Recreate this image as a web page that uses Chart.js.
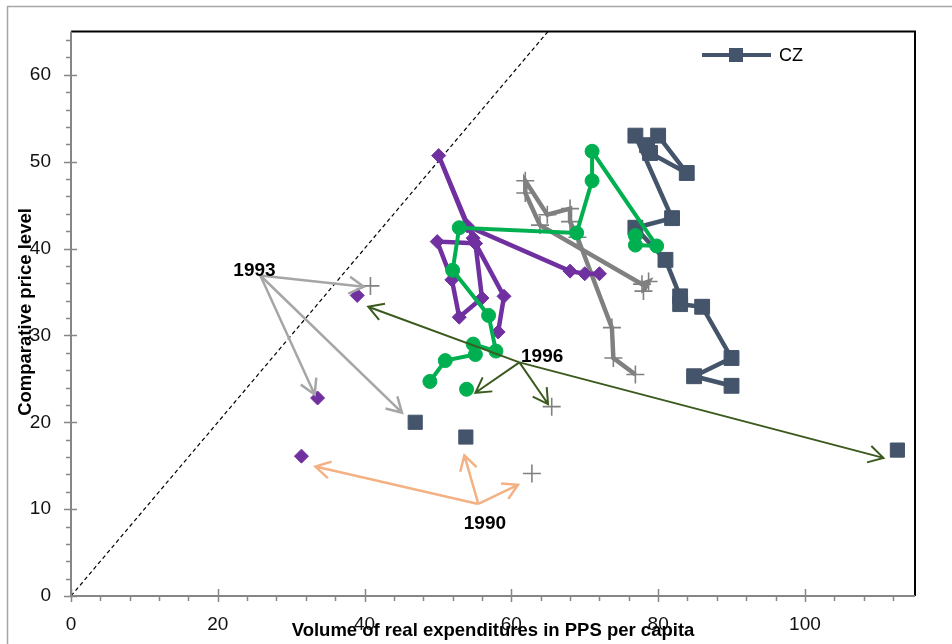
<!DOCTYPE html>
<html>
<head>
<meta charset="utf-8">
<script src="https://cdn.jsdelivr.net/npm/chart.js@4.4.1/dist/chart.umd.min.js"></script>
<style>body { margin: 0; background: #fff; }</style>
</head>
<body>
<canvas id="chart" width="952" height="644"></canvas>
<script>
// axes
const xTicks = [0, 20, 40, 60, 80, 100]
const yTicks = [0, 10, 20, 30, 40, 50, 60]
const xMinorStep = 4
const yMinorStep = 2
const xMax = 115
const yMax = 65

// CZ (squares)
const czX = [90.0, 84.9, 90.0, 86.0, 83.0, 83.0, 81.0, 76.9, 81.9, 76.9, 78.5, 78.9, 83.9, 80.0]
const czY = [24.2, 25.3, 27.4, 33.3, 33.6, 34.5, 38.7, 42.4, 43.5, 53.0, 51.9, 51.0, 48.7, 53.0]
const czDotX = [46.9, 53.8, 112.6]
const czDotY = [20.0, 18.3, 16.8]

// grey crosses
const greyX = [76.9, 73.9, 73.7, 69.0, 68.0, 68.0, 64.9, 61.9, 61.9, 63.9, 77.8, 78.7, 78.0]
const greyY = [25.5, 27.4, 30.9, 41.3, 43.1, 44.6, 43.9, 47.8, 46.4, 42.7, 35.9, 36.2, 35.1]
const greyDotX = [40.8, 65.5, 62.8]
const greyDotY = [35.7, 21.8, 14.1]

// purple diamonds
const purpleX = [72.0, 70.0, 68.0, 54.0, 50.1, 54.8, 55.1, 49.9, 51.9, 52.9, 56.0, 55.1, 59.0, 58.2]
const purpleY = [37.1, 37.1, 37.4, 42.6, 50.7, 41.2, 40.6, 40.8, 36.4, 32.1, 34.3, 40.6, 34.5, 30.4]
const purpleDotX = [39.0, 33.6, 31.4]
const purpleDotY = [34.6, 22.8, 16.1]

// green circles
const greenX = [48.9, 51.0, 55.1, 54.8, 57.9, 56.9, 52.0, 52.9, 68.9, 71.0, 71.0, 79.8, 76.9, 76.9]
const greenY = [24.7, 27.1, 27.8, 29.0, 28.2, 32.3, 37.5, 42.4, 41.8, 47.8, 51.2, 40.3, 40.4, 41.5]
const greenDotX = [53.9]
const greenDotY = [23.8]

// year call-outs: label position, arrow origin, arrow tips
const calloutYears = ['1993', '1996', '1990']
const calloutLabels = [[25.0, 37.4], [64.2, 27.5], [56.4, 8.3]]
const calloutFrom = [[25.8, 36.9], [61.1, 26.9], [55.5, 10.6]]
const calloutTo = [
  [[39.9, 35.6], [33.2, 23.2], [45.1, 21.1]],
  [[40.5, 33.3], [55.1, 23.4], [65.0, 22.1], [110.7, 15.9]],
  [[33.3, 14.9], [53.6, 16.2], [60.9, 12.8]],
]
const calloutColors = ['#A6A6A6', '#3B5A1E', '#F4B183']
const calloutWidths = [2.5, 2, 2.5]

const pts = (xs, ys) => xs.map((x, i) => ({ x, y: ys[i] }))

const series = (label, xs, ys, color, style, radius, order, showLine) => ({
  label,
  data: pts(xs, ys),
  showLine,
  borderColor: color,
  backgroundColor: color,
  borderWidth: 4.5,
  pointStyle: style,
  pointRadius: radius,
  pointBorderWidth: style === 'cross' ? 1.6 : 1,
  pointBorderColor: color,
  pointBackgroundColor: color,
  order,
})

const font = 'Liberation Sans'

const drawArrow = (ctx, x0, y0, x1, y1) => {
  const a = Math.atan2(y1 - y0, x1 - x0)
  const h = 17
  const s = Math.PI / 6
  ctx.beginPath()
  ctx.moveTo(x0, y0)
  ctx.lineTo(x1, y1)
  ctx.moveTo(x1 - h * Math.cos(a - s), y1 - h * Math.sin(a - s))
  ctx.lineTo(x1, y1)
  ctx.lineTo(x1 - h * Math.cos(a + s), y1 - h * Math.sin(a + s))
  ctx.stroke()
}

const decorations = {
  id: 'decorations',
  beforeDraw(chart) {
    const ctx = chart.ctx
    ctx.save()
    ctx.strokeStyle = '#A6A6A6'
    ctx.lineWidth = 1.5
    ctx.strokeRect(7.5, 6.5, 960, 660)
    ctx.restore()
  },
  afterDraw(chart) {
    const { ctx, chartArea: a, scales: { x, y } } = chart
    ctx.save()
    // frame
    ctx.lineWidth = 2
    ctx.strokeStyle = '#000'
    ctx.beginPath()
    ctx.moveTo(a.left, a.top); ctx.lineTo(a.right, a.top); ctx.lineTo(a.right, a.bottom)
    ctx.stroke()
    ctx.strokeStyle = '#868686'
    ctx.beginPath()
    ctx.moveTo(a.left, a.top); ctx.lineTo(a.left, a.bottom); ctx.lineTo(a.right, a.bottom)
    ctx.stroke()
    // tick marks
    ctx.lineWidth = 1.5
    ctx.beginPath()
    for (let v = 0; v <= yMax; v += yMinorStep) {
      const p = Math.round(y.getPixelForValue(v)) + 0.5
      ctx.moveTo(a.left - 5, p); ctx.lineTo(a.left, p)
    }
    yTicks.forEach(v => {
      const p = Math.round(y.getPixelForValue(v)) + 0.5
      ctx.moveTo(a.left - 7, p); ctx.lineTo(a.left + 6, p)
    })
    for (let v = 0; v <= xMax; v += xMinorStep) {
      const p = Math.round(x.getPixelForValue(v)) + 0.5
      ctx.moveTo(p, a.bottom); ctx.lineTo(p, a.bottom + 5)
    }
    xTicks.forEach(v => {
      const p = Math.round(x.getPixelForValue(v)) + 0.5
      ctx.moveTo(p, a.bottom - 7); ctx.lineTo(p, a.bottom + 6)
    })
    ctx.stroke()

    // call-out arrows
    calloutYears.forEach((year, i) => {
      ctx.strokeStyle = calloutColors[i]
      ctx.lineWidth = calloutWidths[i]
      const [fx, fy] = calloutFrom[i]
      calloutTo[i].forEach(([tx, ty]) => {
        drawArrow(ctx, x.getPixelForValue(fx), y.getPixelForValue(fy), x.getPixelForValue(tx), y.getPixelForValue(ty))
      })
    })
    ctx.fillStyle = '#000'
    ctx.font = `bold 19px "${font}"`
    ctx.textAlign = 'center'
    ctx.textBaseline = 'middle'
    calloutYears.forEach((year, i) => {
      const [lx, ly] = calloutLabels[i]
      ctx.fillText(year, x.getPixelForValue(lx), y.getPixelForValue(ly))
    })

    // axis titles
    ctx.font = `bold 18.5px "${font}"`
    ctx.fillText('Volume of real expenditures in PPS per capita', 493, 631)
    ctx.save()
    ctx.translate(26, 312)
    ctx.rotate(-Math.PI / 2)
    ctx.fillText('Comparative price level', 0, 0)
    ctx.restore()

    // legend (CZ only)
    const cz = chart.data.datasets[0]
    ctx.strokeStyle = cz.borderColor
    ctx.lineWidth = 4
    ctx.beginPath(); ctx.moveTo(702, 55); ctx.lineTo(771, 55); ctx.stroke()
    ctx.fillStyle = cz.borderColor
    ctx.fillRect(729, 48, 14, 14)
    ctx.fillStyle = '#000'
    ctx.font = `18px "${font}"`
    ctx.textAlign = 'left'
    ctx.fillText(cz.label, 779, 56)
    ctx.restore()
  },
}

new Chart(document.getElementById('chart'), {
  type: 'scatter',
  data: {
    datasets: [
      series('CZ', czX, czY, '#44546A', 'rect', 10.5, 4, true),
      series('CZ early', czDotX, czDotY, '#44546A', 'rect', 10, 4, false),
      series('grey', greyX, greyY, '#808080', 'cross', 9, 3, true),
      series('grey early', greyDotX, greyDotY, '#808080', 'cross', 9, 3, false),
      series('purple', purpleX, purpleY, '#7030A0', 'rectRot', 7, 2, true),
      series('purple early', purpleDotX, purpleDotY, '#7030A0', 'rectRot', 7, 2, false),
      { ...series('green', greenX, greenY, '#00B050', 'circle', 7, 1, true), borderWidth: 4 },
      series('green early', greenDotX, greenDotY, '#00B050', 'circle', 7, 1, false),
      {
        label: 'diagonal',
        data: [{ x: 0, y: 0 }, { x: yMax, y: yMax }],
        showLine: true,
        borderColor: '#000',
        borderWidth: 1.2,
        borderDash: [4, 3],
        pointRadius: 0,
        order: 10,
      },
    ],
  },
  options: {
    responsive: false,
    devicePixelRatio: 1,
    animation: false,
    layout: { padding: { top: 29, right: 37, left: 0, bottom: 0 } },
    plugins: { legend: { display: false }, tooltip: { enabled: false } },
    scales: {
      x: {
        min: 0,
        max: xMax,
        afterFit: scale => { scale.height = 48 },
        afterBuildTicks: scale => { scale.ticks = xTicks.map(value => ({ value })) },
        grid: { display: false, drawTicks: false },
        border: { display: false },
        ticks: { padding: 17, color: '#111', font: { family: font, size: 19 } },
      },
      y: {
        min: 0,
        max: yMax,
        afterFit: scale => { scale.width = 71 },
        afterBuildTicks: scale => { scale.ticks = yTicks.map(value => ({ value })) },
        grid: { display: false, drawTicks: false },
        border: { display: false },
        ticks: { padding: 20, color: '#111', font: { family: font, size: 19 } },
      },
    },
  },
  plugins: [decorations],
})
</script>
</body>
</html>
